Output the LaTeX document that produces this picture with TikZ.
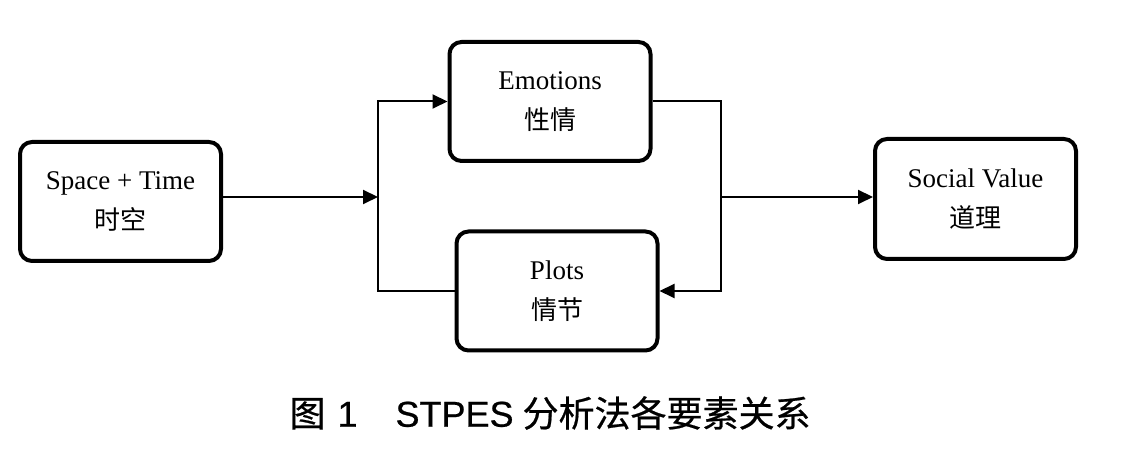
\documentclass[tikz,border=0pt]{standalone}
\usepackage{fontspec}
\setmainfont{Liberation Serif}
\newfontfamily\cjk{Noto Sans CJK SC}
\newfontfamily\capcjk[FakeBold=0.6]{Noto Sans CJK SC}
\newfontfamily\caplat[FakeBold=0.6]{Liberation Sans}
\usetikzlibrary{arrows.meta, positioning}

\tikzset{
    box/.style={draw, line width=4pt, rounded corners=12pt, minimum width=201pt,
        minimum height=119pt, align=center, font=\fontsize{27}{40}\selectfont},
    link/.style={line width=2pt},
    tip/.style={link, -{Triangle[length=15pt, width=14pt]}}
}
\newcommand{\zh}[1]{{\cjk\fontsize{26}{40}\selectfont #1}}

\begin{document}
\begin{tikzpicture}[x=1pt, y=1pt]

    % Page size
    \useasboundingbox (0,0) rectangle (1141,465);

    % Boxes
    \node[box] (st)   at (120.5, 263.5) {Space + Time\\\zh{时空}};
    \node[box] (emo)  at (550, 363.5)   {Emotions\\\zh{性情}};
    \node[box] (plot) at (557, 174)     {Plots\\\zh{情节}};
    \node[box, minimum height=120pt] (soc) at (975.5, 266) {Social Value\\\zh{道理}};

    % Branch points
    \coordinate (splitL) at (378, 268);
    \coordinate (splitR) at (721, 268);

    % Connectors
    \draw[tip]  (st.east |- splitL) -- (splitL);
    \draw[tip]  (splitL) |- (emo.west);
    \draw[link] (splitL) |- (plot.west);
    \draw[link] (emo.east) -| (splitR);
    \draw[tip]  (splitR) |- (plot.east);
    \draw[tip]  (splitR) -- (soc.west |- splitR);

    % Caption
    \node[font=\fontsize{36}{40}\selectfont, anchor=west] (cap) at (286, 52)
        {\capcjk 图\hspace{12pt}\caplat 1\hspace{38pt}STPES\hspace{9pt}\capcjk 分析法各要素关系};

\end{tikzpicture}
\end{document}
